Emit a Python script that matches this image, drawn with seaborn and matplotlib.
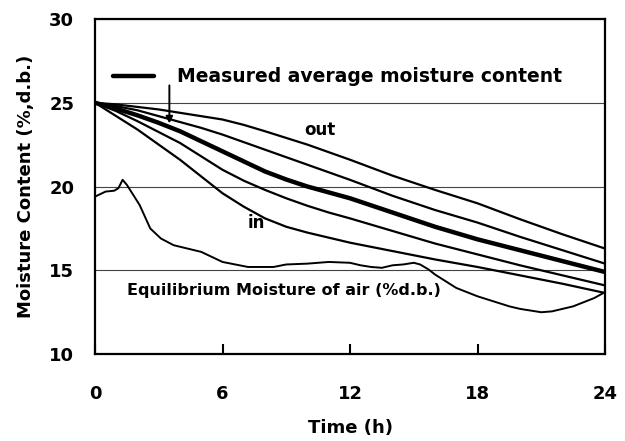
import matplotlib
matplotlib.use("Agg")
import matplotlib.pyplot as plt
import seaborn as sns
import pandas as pd

# Moisture content profiles in the grain bed (% d.b.) over drying time (h)
hours = [0, 1, 2, 3, 4, 5, 6, 7, 8, 9, 10, 11, 12, 14, 16, 18, 20, 22, 24]
mc_out = [25.0, 24.9, 24.75, 24.6, 24.4, 24.2, 24.0, 23.68, 23.3, 22.9, 22.5,
          22.05, 21.6, 20.65, 19.8, 19.0, 18.05, 17.15, 16.3]
mc_upper = [25.0, 24.8, 24.55, 24.2, 23.85, 23.5, 23.1, 22.65, 22.2, 21.75, 21.3,
            20.85, 20.4, 19.45, 18.6, 17.85, 17.0, 16.2, 15.4]
mc_measured = [25.0, 24.65, 24.25, 23.8, 23.3, 22.7, 22.1, 21.5, 20.9, 20.42, 20.0,
               19.65, 19.3, 18.45, 17.6, 16.85, 16.2, 15.55, 14.9]
mc_lower = [25.0, 24.5, 23.9, 23.25, 22.6, 21.8, 21.0, 20.35, 19.8, 19.3, 18.85,
            18.45, 18.1, 17.35, 16.6, 15.95, 15.3, 14.7, 14.1]
mc_in = [25.0, 24.2, 23.4, 22.5, 21.6, 20.6, 19.6, 18.8, 18.1, 17.6, 17.25,
         16.95, 16.65, 16.15, 15.65, 15.2, 14.7, 14.2, 13.65]

# Equilibrium moisture content of the drying air
eq_hours = [0, 0.5, 0.9, 1.1, 1.3, 1.5, 1.8, 2.1, 2.6, 3.1, 3.7, 5.0, 6.0, 7.2,
            8.4, 9.0, 10, 11, 12, 12.5, 13, 13.5, 14, 14.5, 15.0, 15.3, 15.7,
            16, 16.5, 17, 17.5, 18, 18.5, 19, 19.5, 20, 20.5, 21, 21.5, 22,
            22.5, 23, 23.5, 24]
eq_mc = [19.4, 19.7, 19.75, 19.9, 20.4, 20.1, 19.5, 18.9, 17.5, 16.9, 16.5, 16.1,
         15.5, 15.2, 15.2, 15.35, 15.4, 15.5, 15.45, 15.3, 15.2, 15.15, 15.3,
         15.35, 15.45, 15.35, 15.05, 14.75, 14.35, 13.95, 13.7, 13.45, 13.25,
         13.05, 12.85, 12.7, 12.6, 12.5, 12.55, 12.7, 12.85, 13.1, 13.35, 13.7]

x_ticks = [0, 6, 12, 18, 24]
y_ticks = [10, 15, 20, 25, 30]

sns.set_theme(style="white")
plt.rcParams["font.family"] = ["DejaVu Sans"]
plt.rcParams["text.color"] = "black"
plt.rcParams["axes.labelcolor"] = "black"
plt.rcParams["xtick.color"] = "black"
plt.rcParams["ytick.color"] = "black"

fig = plt.figure(figsize=(6.25, 4.41), dpi=100)
ax = fig.add_axes([0.152, 0.197, 0.816, 0.760])

n = len(hours)
profiles = pd.DataFrame({
    "Time": hours * 4,
    "MC": mc_out + mc_upper + mc_lower + mc_in,
    "Layer": ["out"] * n + ["upper"] * n + ["lower"] * n + ["in"] * n,
})
sns.lineplot(data=profiles, x="Time", y="MC", units="Layer", estimator=None,
             color="black", lw=1.6, ax=ax, legend=False)
sns.lineplot(x=eq_hours, y=eq_mc, color="black", lw=1.4, ax=ax)
sns.lineplot(x=hours, y=mc_measured, color="black", lw=3.2, ax=ax,
             label="Measured average moisture content")

ax.set_xlim(0, 24)
ax.set_ylim(10, 30)
ax.set_xticks(x_ticks)
ax.set_yticks(y_ticks)
ax.yaxis.grid(True, color="#444444", lw=0.8)
ax.xaxis.grid(False)
for s in ax.spines.values():
    s.set_color("black")
    s.set_linewidth(1.6)

ax.tick_params(axis="x", direction="in", length=7, width=1.5, pad=22,
               labelsize=13, bottom=True)
ax.tick_params(axis="y", length=0, pad=15, labelsize=13)
for lab in ax.get_xticklabels() + ax.get_yticklabels():
    lab.set_fontweight("bold")

ax.set_xlabel("Time (h)", fontsize=13, fontweight="bold", labelpad=12)
ax.set_ylabel("Moisture Content (%,d.b.)", fontsize=13, fontweight="bold",
              labelpad=10)

leg = ax.legend(loc="center left", bbox_to_anchor=(0.035, 0.827), frameon=False,
                borderpad=0, borderaxespad=0, handlelength=2.2, handletextpad=1.2,
                prop={"size": 13.5, "weight": "bold"})

ax.annotate("", xy=(3.5, 23.6), xytext=(3.5, 26.2),
            arrowprops=dict(arrowstyle="-|>", lw=1.4, color="black",
                            mutation_scale=10))
ax.text(10.6, 23.4, "out", fontsize=12, fontweight="bold", ha="center", va="center")
ax.text(7.6, 17.8, "in", fontsize=12, fontweight="bold", ha="center", va="center")
ax.text(1.5, 13.8, "Equilibrium Moisture of air (%d.b.)", fontsize=11.5,
        fontweight="bold", ha="left", va="center")

fig.savefig("out.png", dpi=100)
